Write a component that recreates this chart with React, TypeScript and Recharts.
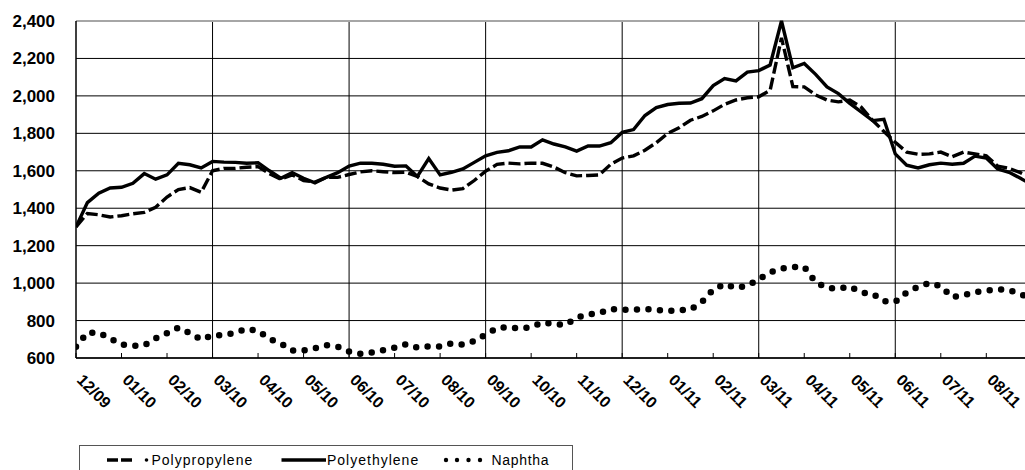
import React from 'react';
import { LineChart, Line, XAxis, YAxis, CartesianGrid, ReferenceLine } from 'recharts';

const monthLabels = [
  '12/09', '01/10', '02/10', '03/10', '04/10', '05/10', '06/10', '07/10', '08/10', '09/10', '10/10',
  '11/10', '12/10', '01/11', '02/11', '03/11', '04/11', '05/11', '06/11', '07/11', '08/11',
];
const monthTicks = [0, 1, 2, 3, 4, 5, 6, 7, 8, 9, 10, 11, 12, 13, 14, 15, 16, 17, 18, 19, 20];
const quarterMonths = [3, 6, 9, 12, 15, 18];
const yTicks = [600, 800, 1000, 1200, 1400, 1600, 1800, 2000, 2200, 2400];

// weekly sampling position, in months since 12/09
const weekPos = [
  0, 0.25, 0.5, 0.75, 1, 1.25, 1.5, 1.75, 2, 2.25, 2.5, 2.75, 3, 3.25, 3.5, 3.75, 4, 4.25, 4.5, 4.75,
  5, 5.25, 5.5, 5.75, 6, 6.25, 6.5, 6.75, 7, 7.25, 7.5, 7.75, 8, 8.25, 8.5, 8.75, 9, 9.25, 9.5, 9.75,
  10, 10.25, 10.5, 10.75, 11, 11.25, 11.5, 11.75, 12, 12.25, 12.5, 12.75, 13, 13.25, 13.5, 13.75,
  14, 14.25, 14.5, 14.75, 15, 15.25, 15.5, 15.75, 16, 16.25, 16.5, 16.75, 17, 17.25, 17.5, 17.75,
  18, 18.25, 18.5, 18.75, 19, 19.25, 19.5, 19.75, 20, 20.25, 20.5, 20.75, 21,
];

const polypropylene = [
  1300, 1372, 1365, 1353, 1360, 1370, 1378, 1405, 1460, 1500, 1510, 1485, 1600, 1613, 1613, 1619,
  1622, 1585, 1555, 1578, 1548, 1540, 1565, 1565, 1580, 1594, 1600, 1595, 1590, 1592, 1570, 1530,
  1508, 1497, 1505, 1548, 1598, 1634, 1641, 1637, 1641, 1640, 1620, 1590, 1573, 1575, 1578, 1635,
  1668, 1680, 1710, 1750, 1800, 1830, 1870, 1890, 1920, 1955, 1978, 1990, 1995, 2030, 2310, 2050,
  2048, 2005, 1978, 1968, 1978, 1940, 1870, 1810, 1752, 1700, 1688, 1690, 1700, 1675, 1700, 1690,
  1680, 1625, 1613, 1590, 1560,
];

const polyethylene = [
  1300, 1430, 1480, 1508, 1512, 1533, 1585, 1555, 1578, 1640, 1632, 1615, 1650, 1646, 1645, 1640,
  1643, 1600, 1560, 1590, 1560, 1535, 1565, 1590, 1625, 1641, 1640, 1635, 1624, 1626, 1570, 1665,
  1578, 1592, 1610, 1645, 1680, 1698, 1707, 1727, 1727, 1765, 1743, 1728, 1705, 1733, 1732, 1750,
  1805, 1820, 1895, 1937, 1954, 1961, 1962, 1985, 2055, 2092, 2080, 2127, 2135, 2165, 2400, 2150,
  2173, 2115, 2048, 2012, 1960, 1915, 1868, 1875, 1690, 1630, 1615, 1632, 1641, 1635, 1640, 1678,
  1668, 1610, 1592, 1560, 1525,
];

const naphtha = [
  660, 735, 735, 705, 672, 665, 668, 705, 732, 762, 733, 698, 722, 722, 736, 756, 745, 702, 678, 640,
  640, 652, 668, 660, 635, 623, 630, 642, 655, 674, 655, 662, 662, 678, 672, 690, 725, 760, 765, 757,
  765, 790, 781, 777, 815, 833, 840, 862, 858, 859, 861, 858, 850, 856, 859, 898, 965, 995, 974, 986,
  1020, 1057, 1077, 1086, 1087, 1005, 975, 970, 982, 950, 943, 903, 900, 950, 980, 1000, 983, 925,
  935, 952, 960, 967, 963, 940, 920,
];

const data = weekPos.map((m, i) => ({
  m,
  pp: polypropylene[i],
  pe: polyethylene[i],
  nap: naphtha[i],
}));

const FONT = '"Liberation Sans", Arial, sans-serif';

const MonthTick = (props: any) => {
  const { x, y, payload } = props;
  const label = monthLabels[payload.value] ?? '';
  return (
    <g>
      <line x1={x} x2={x} y1={y - 5} y2={y} stroke="#000" strokeWidth={1} />
      <text
        transform={`translate(${x},${y + 23}) rotate(45)`}
        textAnchor="start"
        fontFamily={FONT}
        fontSize={16}
        fontWeight="bold"
        fill="#000"
      >
        {label}
      </text>
    </g>
  );
};

const Legend = () => (
  <svg
    width={1025}
    height={45}
    style={{ position: 'absolute', left: 0, top: 425 }}
  >
    <rect x={79.5} y={20.5} width={493} height={40} fill="#fff" stroke="#555" strokeWidth={1} />
    <line x1={107} x2={118} y1={35} y2={35} stroke="#000" strokeWidth={3.5} />
    <line x1={121} x2={132} y1={35} y2={35} stroke="#000" strokeWidth={3.5} />
    <circle cx={146.5} cy={35} r={1.8} fill="#000" />
    <text x={151.5} y={40} fontFamily={FONT} fontSize={14} letterSpacing={1} fill="#000">
      Polypropylene
    </text>
    <line x1={281.5} x2={326} y1={35} y2={35} stroke="#000" strokeWidth={3.5} />
    <text x={327} y={40} fontFamily={FONT} fontSize={14} letterSpacing={1} fill="#000">
      Polyethylene
    </text>
    <circle cx={446} cy={35} r={2.2} fill="#000" />
    <circle cx={457} cy={35} r={2.2} fill="#000" />
    <circle cx={468.5} cy={35} r={2.2} fill="#000" />
    <circle cx={480} cy={35} r={2.2} fill="#000" />
    <text x={491.5} y={40} fontFamily={FONT} fontSize={14} letterSpacing={0.7} fill="#000">
      Naphtha
    </text>
  </svg>
);

export default function App() {
  return (
    <div style={{ position: 'absolute', left: 0, top: 0, width: 1025, height: 470, background: '#fff' }}>
      <LineChart
        width={1025}
        height={470}
        data={data}
        margin={{ top: 21, right: 0, bottom: 0, left: 0 }}
      >
        <CartesianGrid horizontal vertical={false} stroke="#000" strokeWidth={1} />
        {quarterMonths.map((q) => (
          <ReferenceLine key={q} x={q} stroke="#000" strokeWidth={1} />
        ))}
        <ReferenceLine y={2400} stroke="#a6a6a6" strokeWidth={2} />
        <XAxis
          dataKey="m"
          type="number"
          domain={[0, 20.85]}
          allowDataOverflow
          ticks={monthTicks}
          interval={0}
          tick={<MonthTick />}
          tickLine={false}
          tickSize={0}
          tickMargin={0}
          height={112}
          axisLine={{ stroke: '#000', strokeWidth: 1.5 }}
        />
        <YAxis
          type="number"
          domain={[600, 2400]}
          ticks={yTicks}
          interval={0}
          width={76}
          tickLine={false}
          tickSize={0}
          tickMargin={21}
          axisLine={{ stroke: '#000', strokeWidth: 1.5 }}
          tickFormatter={(v: number) => v.toLocaleString('en-US')}
          tick={{ fontSize: 17, fontWeight: 'bold', fill: '#000', fontFamily: FONT }}
        />
        <Line
          dataKey="pp"
          type="linear"
          stroke="#000"
          strokeWidth={3.4}
          strokeDasharray="12 4"
          dot={false}
          activeDot={false}
          isAnimationActive={false}
        />
        <Line
          dataKey="pe"
          type="linear"
          stroke="#000"
          strokeWidth={3.4}
          dot={false}
          activeDot={false}
          isAnimationActive={false}
        />
        <Line
          dataKey="nap"
          type="linear"
          stroke="#000"
          strokeWidth={6.5}
          strokeDasharray="0 11.5"
          strokeLinecap="round"
          dot={false}
          activeDot={false}
          isAnimationActive={false}
        />
      </LineChart>
      <Legend />
    </div>
  );
}
